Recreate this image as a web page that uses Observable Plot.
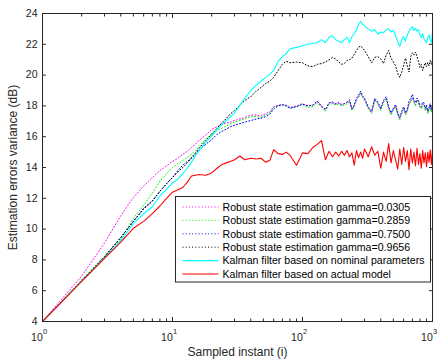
<!DOCTYPE html>
<html><head><meta charset="utf-8">
<script src="https://cdn.jsdelivr.net/npm/d3@7"></script>
<script src="https://cdn.jsdelivr.net/npm/@observablehq/plot@0.6"></script>
<style>body{margin:0;background:#fff} svg{display:block}</style>
</head><body><div id="chart"></div>
<script>
const sampleInstants = [1,2,3,4,5,6,7,8,9,10,11,12,13,14,15,16,18,20,22,24,26,28,30,33,36,40,44,48,52,56,60,65,70,75,80,90,100,
110,120,130,140,150,160,170,180,190,200,210,220,230,240,250,260,270,280,290,300,320,340,360,380,400,420,440,460,480,500,520,540,560,580,600,620,640,660,680,700,720,740,760,780,800,820,840,860,880,900,920,940,960,980,1000];

const robustGamma0305 = [4.0,6.95,9.1,10.87,12.05,12.8,13.35,13.8,14.1,14.4,14.6,14.85,15.05,15.3,15.5,15.75,16.1,16.45,16.65,16.8,16.9,16.95,17.05,17.15,17.25,17.4,17.4,17.35,17.5,17.6,17.95,18.05,18.1,18.05,17.9,18.0,18.15,
18.0,18.05,18.3,17.95,17.75,18.2,18.2,18.1,18.2,18.05,18.15,18.2,18.3,17.8,18.0,18.4,18.55,18.85,18.55,18.4,17.85,17.55,18.4,18.15,17.75,18.25,18.5,17.85,17.45,17.8,18.0,17.45,17.15,17.55,17.85,17.45,17.7,18.15,18.3,18.55,18.25,18.05,18.4,18.2,17.95,17.85,18.1,18.1,17.75,17.95,17.55,17.8,18.0,17.65,17.95];

const robustGamma2859 = [4.0,6.7,8.25,9.35,10.7,11.55,12.35,13.1,13.6,14.0,14.25,14.45,14.65,14.85,15.1,15.35,15.85,16.2,16.4,16.55,16.7,16.85,16.95,17.05,17.15,17.3,17.3,17.25,17.4,17.55,17.9,18.0,18.1,18.0,17.85,17.95,18.1,
17.9,17.95,18.2,17.9,17.65,18.1,18.15,18.05,18.1,18.0,18.05,18.15,18.3,17.7,17.95,18.4,18.55,18.85,18.55,18.4,17.85,17.5,18.4,18.1,17.7,18.25,18.45,17.85,17.4,17.75,17.95,17.4,17.1,17.5,17.85,17.4,17.65,18.1,18.3,18.55,18.2,18.0,18.35,18.2,17.9,17.8,18.1,18.05,17.7,17.9,17.5,17.75,18.0,17.6,17.9];

const robustGamma7500 = [4.0,6.63,8.2,9.45,10.5,11.35,11.85,12.45,12.95,13.35,13.8,14.15,14.4,14.6,14.85,15.15,15.5,15.8,16.15,16.35,16.5,16.65,16.75,16.85,16.95,17.05,17.15,17.2,17.3,17.45,17.8,18.0,18.05,18.0,17.85,17.95,18.1,
18.0,18.05,18.3,18.0,17.75,18.2,18.25,18.15,18.2,18.1,18.15,18.25,18.4,17.8,18.05,18.5,18.7,18.95,18.65,18.5,17.95,17.65,18.5,18.25,17.85,18.35,18.6,17.95,17.55,17.85,18.1,17.55,17.25,17.65,17.95,17.55,17.8,18.3,18.5,18.75,18.4,18.2,18.5,18.35,18.05,17.95,18.25,18.2,17.85,18.05,17.65,17.9,18.15,17.75,18.05];

const robustGamma9656 = [4.0,6.63,8.2,9.45,10.5,11.3,11.8,12.45,12.95,13.35,13.7,14.0,14.3,14.65,14.95,15.25,15.75,16.15,16.55,16.9,17.2,17.5,17.7,18.05,18.35,18.6,18.95,19.2,19.45,19.6,19.85,20.3,20.7,20.9,20.8,20.85,20.8,
20.6,20.55,20.7,20.75,20.85,21.0,21.15,21.05,20.85,20.7,20.75,20.95,21.0,21.1,21.35,21.6,21.8,21.9,21.75,21.6,21.2,20.8,21.15,21.2,21.05,20.75,21.3,21.6,21.1,20.85,20.6,20.1,19.85,20.2,20.65,21.1,20.6,20.2,21.2,21.45,21.3,21.5,21.2,20.9,20.5,20.7,20.3,20.6,20.8,20.55,20.8,20.6,20.95,20.7,21.0];

const kalmanNominal = [4.0,6.6,8.12,9.25,10.35,11.0,11.45,12.15,12.6,13.0,13.25,13.6,13.95,14.35,14.75,15.1,15.65,16.05,16.45,16.8,17.05,17.3,17.55,18.05,18.5,19.0,19.35,19.6,19.85,20.05,20.3,20.9,21.2,21.4,21.7,21.8,21.9,
22.0,22.05,22.1,22.3,22.1,22.45,22.55,22.3,22.2,22.1,22.3,22.45,22.1,22.5,22.7,22.9,23.3,23.5,23.3,23.2,23.0,22.85,22.95,22.65,22.8,22.75,22.95,23.0,22.8,22.9,22.55,22.2,21.85,22.3,22.5,22.2,22.6,22.85,23.05,23.15,22.9,23.05,22.85,22.95,22.6,22.45,22.7,22.35,22.2,22.1,22.4,22.6,22.3,22.1,22.8];

const kalmanActual = [4.0,6.6,8.1,9.15,10.05,10.5,11.0,11.5,12.0,12.4,12.55,12.7,13.05,13.45,13.5,13.55,13.5,13.65,13.95,14.2,14.3,14.4,14.5,14.75,14.5,14.6,14.55,14.6,14.35,14.45,15.15,14.9,14.85,15.0,14.8,14.15,14.95,
14.9,15.3,15.5,15.75,14.5,15.05,14.7,15.0,14.75,15.05,14.8,15.1,14.7,14.95,14.15,15.1,14.65,15.0,14.6,15.2,14.7,15.35,14.8,15.05,13.95,15.0,14.4,15.55,14.3,15.1,14.5,13.9,15.2,14.2,15.3,14.4,15.1,13.85,15.2,14.3,15.0,14.1,15.25,14.2,14.9,13.95,15.1,14.3,14.95,14.05,15.0,14.35,15.15,14.2,15.2];

const seriesNames = [
  "Robust state estimation gamma=0.0305",
  "Robust state estimation gamma=0.2859",
  "Robust state estimation gamma=0.7500",
  "Robust state estimation gamma=0.9656",
  "Kalman filter based on nominal parameters",
  "Kalman filter based on actual model"
];
const seriesColors = ["#ff00ff", "#00ff00", "#0000ff", "#000000", "#00ffff", "#ff0000"];
const seriesValues = [robustGamma0305, robustGamma2859, robustGamma7500, robustGamma9656, kalmanNominal, kalmanActual];

const yTicks = [4, 6, 8, 10, 12, 14, 16, 18, 20, 22, 24];
const xMajorTicks = [1, 10, 100, 1000];
const xTickExponents = ["0", "1", "2", "3"];
const xMinorTicks = [2,3,4,5,6,7,8,9,20,30,40,50,60,70,80,90,200,300,400,500,600,700,800,900];
const xTitle = "Sampled instant (i)";
const yTitle = "Estimation errors variance (dB)";

const font = "'Liberation Sans', Arial, Helvetica, sans-serif";
const ink = "#262626";
const dotted = "1,2.2";

const series = seriesNames.map((name, i) => ({
  name, color: seriesColors[i], values: seriesValues[i], dash: i < 4 ? dotted : null
}));

const lineMarks = series.map(s => Plot.line(sampleInstants, {
  x: sampleInstants, y: s.values, stroke: s.color,
  strokeWidth: s.dash ? 1 : 1.1, strokeDasharray: s.dash
}));

function legend(index, scales, values, dims) {
  const g = d3.create("svg:g").attr("font-family", font).attr("font-size", 10.6)
    .attr("fill", "#000").attr("text-anchor", "start");
  const x1 = dims.width - dims.marginRight - 1.5;
  const x0 = x1 - 255;
  const y1 = dims.height - dims.marginBottom - 39;
  const y0 = y1 - 85.5;
  g.append("rect").attr("x", x0).attr("y", y0).attr("width", x1 - x0).attr("height", y1 - y0)
    .attr("fill", "white").attr("stroke", ink).attr("stroke-width", 1);
  series.forEach((s, i) => {
    const cy = y0 + 10.5 + i * 13.4;
    g.append("line").attr("x1", x0 + 7).attr("x2", x0 + 43).attr("y1", cy).attr("y2", cy)
      .attr("stroke", s.color).attr("stroke-width", s.dash ? 1 : 1.1)
      .attr("stroke-dasharray", s.dash);
    g.append("text").attr("x", x0 + 47).attr("y", cy).attr("dy", "0.35em")
      .attr("text-anchor", "start").text(s.name);
  });
  return g.node();
}

const chart = Plot.plot({
  width: 441, height: 362,
  marginLeft: 42, marginRight: 9, marginTop: 13, marginBottom: 41,
  style: {fontFamily: font, fontSize: "10.5px", color: ink, background: "white"},
  x: {type: "log", domain: [1, 1000]},
  y: {domain: [4, 24]},
  marks: [
    ...lineMarks,
    Plot.frame({stroke: ink, strokeWidth: 1}),
    Plot.axisY({ticks: yTicks, tickSize: 0, tickPadding: 5, label: null, tickFormat: d => String(d)}),
    Plot.axisY({ticks: yTicks, anchor: "left", tickSize: -4, fill: "none", label: null}),
    Plot.axisY({ticks: yTicks, anchor: "right", tickSize: -4, fill: "none", label: null}),
    Plot.axisX({ticks: xMajorTicks, anchor: "bottom", tickSize: -4, fill: "none", label: null}),
    Plot.axisX({ticks: xMajorTicks, anchor: "top", tickSize: -4, fill: "none", label: null}),
    Plot.axisX({ticks: xMinorTicks, anchor: "bottom", tickSize: -2.5, fill: "none", label: null}),
    Plot.axisX({ticks: xMinorTicks, anchor: "top", tickSize: -2.5, fill: "none", label: null}),
    Plot.text(xMajorTicks, {x: d => d, text: () => "10", frameAnchor: "bottom", lineAnchor: "middle", dy: 16.5, dx: 0.3, textAnchor: "end", fontSize: 10.5, fill: ink}),
    Plot.text(xMajorTicks, {x: d => d, text: (d, i) => xTickExponents[i], frameAnchor: "bottom", lineAnchor: "middle", dy: 10.5, dx: 0.6, textAnchor: "start", fontSize: 7.5, fill: ink}),
    Plot.text([xTitle], {frameAnchor: "bottom", lineAnchor: "middle", textAnchor: "middle", dy: 31, fontSize: 12, fill: ink}),
    Plot.text([yTitle], {frameAnchor: "left", lineAnchor: "middle", textAnchor: "middle", dx: -29, rotate: -90, fontSize: 12, fill: ink}),
    legend
  ]
});
document.getElementById("chart").appendChild(chart);
</script>
</body></html>
